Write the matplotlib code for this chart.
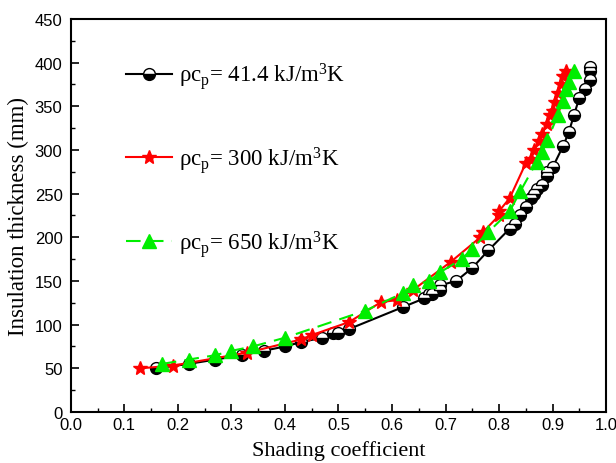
import matplotlib
matplotlib.use("Agg")
import matplotlib.pyplot as plt
from matplotlib.ticker import MultipleLocator

plt.rcParams['mathtext.fontset'] = 'custom'
plt.rcParams['mathtext.rm'] = 'Liberation Serif'
plt.rcParams['mathtext.it'] = 'Liberation Serif:italic'

labels = ['ρc$_\\mathrm{p}$= 41.4 kJ/m$^\\mathrm{3}$K',
          'ρc$_\\mathrm{p}$= 300 kJ/m$^\\mathrm{3}$K',
          'ρc$_\\mathrm{p}$= 650 kJ/m$^\\mathrm{3}$K']

x_black = [0.16, 0.22, 0.27, 0.32, 0.36, 0.40, 0.43, 0.47, 0.49, 0.50, 0.52, 0.62, 0.66, 0.67,
           0.675, 0.69, 0.69, 0.72, 0.75, 0.78, 0.82, 0.83, 0.84, 0.85, 0.86, 0.865, 0.87, 0.88,
           0.89, 0.89, 0.90, 0.92, 0.93, 0.94, 0.95, 0.96, 0.97, 0.97, 0.97]
y_black = [50, 55, 60, 65, 70, 75, 80, 85, 90, 90, 95, 120, 130, 135,
           135, 140, 145, 150, 165, 185, 210, 215, 225, 235, 245, 250, 255, 260,
           270, 275, 280, 305, 320, 340, 360, 370, 380, 390, 395]

x_red = [0.13, 0.19, 0.33, 0.43, 0.45, 0.52, 0.58, 0.61, 0.64, 0.71, 0.765, 0.77, 0.80, 0.80,
         0.82, 0.85, 0.86, 0.865, 0.875, 0.88, 0.89, 0.895, 0.90, 0.905, 0.91, 0.915, 0.92, 0.925]
y_red = [50, 53, 68, 83, 88, 103, 126, 128, 140, 172, 200, 206, 225, 230,
         245, 285, 290, 300, 310, 318, 330, 340, 345, 355, 365, 375, 385, 390]

x_green = [0.17, 0.22, 0.27, 0.30, 0.34, 0.40, 0.55, 0.62, 0.64, 0.67, 0.69, 0.73, 0.75, 0.78,
           0.82, 0.84, 0.87, 0.88, 0.89, 0.91, 0.92, 0.925, 0.93, 0.94]
y_green = [55, 60, 65, 70, 75, 85, 116, 136, 145, 150, 160, 175, 187, 206,
           230, 253, 286, 298, 311, 340, 356, 370, 378, 390]

fig = plt.figure(figsize=(6.16, 4.64), dpi=100)
ax = fig.add_axes([0.115, 0.110, 0.869, 0.847])

ax.plot(x_black, y_black, color='black', lw=1.5, marker='o', ms=8.5,
        fillstyle='bottom', markerfacecolor='black', markerfacecoloralt='white',
        markeredgecolor='black', markeredgewidth=1.0, label=labels[0], zorder=3)
ax.plot(x_red, y_red, color='red', lw=1.5, marker='*', ms=10,
        markerfacecolor='red', markeredgecolor='red', label=labels[1], zorder=4)
ax.plot(x_green, y_green, color='#00ee00', lw=1.5, ls=(0, (7, 4)), marker='^', ms=9.5,
        markerfacecolor='#00ee00', markeredgecolor='#00ee00', label=labels[2], zorder=5)

ax.set_xlim(0.0, 1.0)
ax.set_ylim(0, 450)
ax.xaxis.set_major_locator(MultipleLocator(0.1))
ax.xaxis.set_minor_locator(MultipleLocator(0.05))
ax.yaxis.set_major_locator(MultipleLocator(50))
ax.yaxis.set_minor_locator(MultipleLocator(25))
ax.tick_params(which='both', direction='in', top=False, right=False, labelsize=12)
ax.tick_params(which='major', length=6, width=1.2)
ax.tick_params(which='minor', length=3, width=1.0)
ax.tick_params(axis='y', pad=6)
ax.set_xticks([i / 10 for i in range(11)])
ax.set_xticklabels([f'{i/10:.1f}' for i in range(11)])
for lab in ax.get_xticklabels() + ax.get_yticklabels():
    lab.set_family('Liberation Sans')
for s in ax.spines.values():
    s.set_linewidth(1.5)

ax.set_xlabel('Shading coefficient', family='Liberation Serif', fontsize=16, labelpad=6)
ax.set_ylabel('Insulation thickness (mm)', family='Liberation Serif', fontsize=16.5, labelpad=4)

leg = ax.legend(loc='upper left', bbox_to_anchor=(0.065, 0.947), frameon=False,
                handlelength=2.0, labelspacing=2.3, handletextpad=0.3,
                prop={'family': 'Liberation Serif', 'size': 16.5})

fig.savefig('out.png', dpi=100)
